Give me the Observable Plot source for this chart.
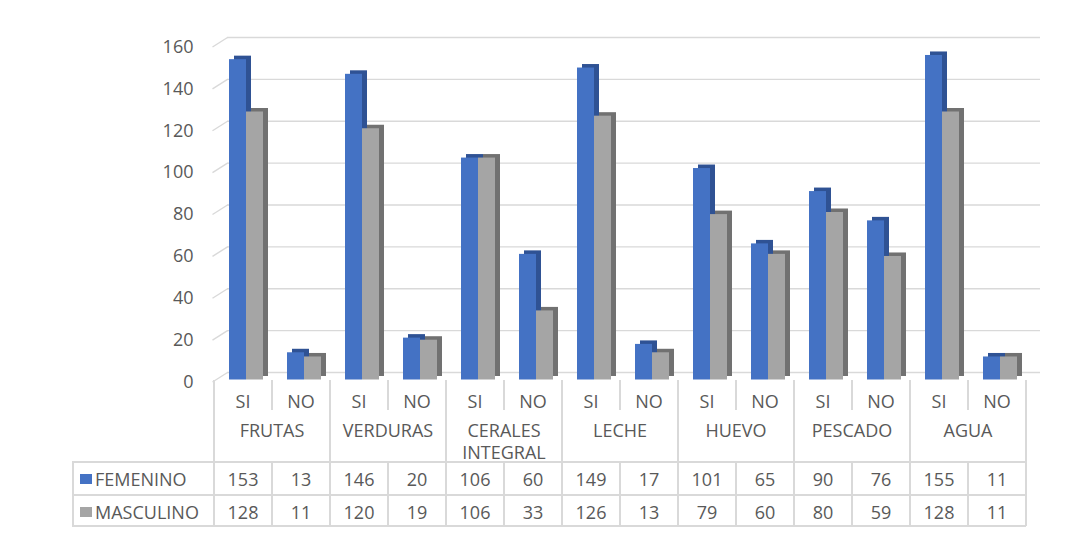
<!DOCTYPE html>
<html><head><meta charset="utf-8">
<script src="https://cdn.jsdelivr.net/npm/d3@7"></script>
<script src="https://cdn.jsdelivr.net/npm/@observablehq/plot@0.6"></script>
<style>
body{margin:0;background:#fff;}
#wrap{position:relative;width:1081px;height:538px;font-family:"Open Sans",sans-serif;color:#595959;overflow:hidden}
#tbl{position:absolute;left:0;top:0;width:1081px;height:538px;pointer-events:none}
.t{position:absolute;font-size:18px;text-align:center;line-height:22px;color:#595959}
.ln{position:absolute;background:#d9d9d9}
</style></head><body><div id="wrap"><div id="tbl"></div></div>
<script>
const categories = ["FRUTAS","VERDURAS","CERALES INTEGRAL","LECHE","HUEVO","PESCADO","AGUA"];
const answers = ["SI","NO"];
const series = ["FEMENINO","MASCULINO"];
const femenino = [153,13,146,20,106,60,149,17,101,65,90,76,155,11];
const masculino = [128,11,120,19,106,33,126,13,79,60,80,59,128,11];
const yTicks = [0,20,40,60,80,100,120,140,160];

const slots = categories.flatMap(c => answers.map(a => ({c, a})));
const fem = femenino.map((v,i)=>({i, v, s:series[0]}));
const mas = masculino.map((v,i)=>({i, v, s:series[1]}));

const W = 1081, H = 538, mL = 214, mR = 55, mT = 44.5, mB = 158.5;
const ppu = (H - mB - mT) / 160;

const blue = "#4472c4", blueDark = "#2f5294", gray = "#a5a5a5", grayDark = "#717171", grid = "#d9d9d9";

const plot = Plot.plot({
  width: W, height: H,
  marginLeft: mL, marginRight: mR, marginTop: mT, marginBottom: mB,
  x: {domain: [0, slots.length], axis: null},
  y: {domain: [0, 160], axis: null},
  style: {fontFamily: "Open Sans", fontSize: "18px", color: "#595959", background: "transparent", overflow: "visible"},
  marks: [
    Plot.ruleY(yTicks, {y: d => d, x1: 13/58, x2: 826/58, dy: -7.5, stroke: grid, strokeWidth: 1.4}),
    Plot.link(yTicks, {x1: -2/58, x2: 13/58, y1: d => d, y2: d => d + 9.5/ppu, dy: 2, stroke: grid, strokeWidth: 1.4}),
    Plot.text(yTicks, {x: 0, y: d => d, text: d => String(d), textAnchor: "end", dx: -21, dy: 2, fill: "#595959", fontSize: 18}),
    // FEMENINO bars (depth face, then front face)
    Plot.rect(fem, {x1: d => d.i, x2: d => d.i + 1, y1: d => 0, y2: "v", insetLeft: 15, insetRight: 26, dx: 5, dy: -3.5, fill: blueDark}),
    Plot.rect(fem, {x1: d => d.i, x2: d => d.i + 1, y1: d => 0, y2: "v", insetLeft: 15, insetRight: 26, fill: blue}),
    // MASCULINO bars
    Plot.rect(mas, {x1: d => d.i, x2: d => d.i + 1, y1: d => 0, y2: "v", insetLeft: 32, insetRight: 9, dx: 5, dy: -3.5, fill: grayDark}),
    Plot.rect(mas, {x1: d => d.i, x2: d => d.i + 1, y1: d => 0, y2: "v", insetLeft: 32, insetRight: 9, fill: gray})
  ]
});
document.getElementById("wrap").insertBefore(plot, document.getElementById("tbl"));

// data table below the chart
const tbl = document.getElementById("tbl");
const colW = 58, x0 = 214, tTop = 380, r1 = 462, r2 = 495, r3 = 526, tLeft = 72, lw = 1.5;
function line(x, y, w, h){ const d = document.createElement("div"); d.className = "ln"; Object.assign(d.style, {left: x+"px", top: y+"px", width: w+"px", height: h+"px"}); tbl.appendChild(d); }
function txt(s, cx, cy, w, extra){ const d = document.createElement("div"); d.className = "t"; d.textContent = s; Object.assign(d.style, {left: (cx - w/2)+"px", top: (cy - 11)+"px", width: w+"px"}, extra||{}); tbl.appendChild(d); return d; }
for (let k = 0; k <= slots.length; k++) {
  const x = x0 + k*colW - lw/2;
  if (k % 2 === 0) line(x, tTop, lw, r3 - tTop);
  else { line(x, tTop, lw, 410 - tTop); line(x, r1, lw, r3 - r1); }
}
line(tLeft, r1, lw, r3 - r1);
[r1, r2, r3].forEach(y => line(tLeft, y - lw/2, x0 + slots.length*colW - tLeft, lw));
slots.forEach((s, k) => txt(s.a, x0 + k*colW + colW/2, 401, colW));
categories.forEach((c, j) => txt(c, x0 + j*2*colW + colW, 430, 2*colW - 4));
const rowsY = [479, 512];
const vals = [femenino, masculino];
const cols = [blue, gray];
series.forEach((s, r) => {
  const sq = document.createElement("div");
  Object.assign(sq.style, {position: "absolute", left: "80px", top: (rowsY[r] - 5)+"px", width: "12px", height: "10px", background: cols[r]});
  tbl.appendChild(sq);
  txt(s, 0, rowsY[r], 200, {left: "95px", textAlign: "left", width: "125px"});
  vals[r].forEach((v, k) => txt(String(v), x0 + k*colW + colW/2, rowsY[r], colW));
});
</script></body></html>
